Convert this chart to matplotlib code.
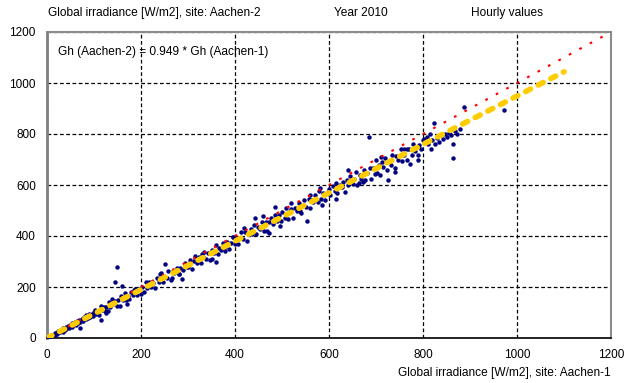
import matplotlib.pyplot as plt

plt.rcParams['font.family'] = ['Liberation Sans', 'DejaVu Sans']

# hourly global irradiance, site Aachen-1 (x) vs Aachen-2 (y)
x_vals = [2, 5, 7, 9, 11, 13, 16, 17, 19, 21, 23, 26, 28, 29, 31, 33, 35, 37, 39, 41, 43, 45, 47, 49,
          53, 54, 56, 59, 61, 64, 66, 69, 71, 74, 77, 79, 83, 84, 87, 89, 92, 96, 97, 99, 70, 115, 33,
          102, 105, 108, 111, 114, 117, 121, 123, 126, 129, 132, 135, 139, 141, 144, 148, 151, 155, 158,
          161, 165, 168, 172, 175, 179, 183, 187, 191, 195, 199, 149, 145, 160, 170, 125, 185,
          203, 206, 210, 213, 217, 221, 226, 229, 233, 238, 242, 246, 250, 255, 258, 263, 268, 271, 276,
          280, 284, 289, 293, 297, 251, 287, 280, 265, 240,
          301, 304, 308, 313, 315, 319, 323, 327, 331, 335, 339, 343, 347, 351, 355, 359, 363, 367, 371,
          375, 379, 383, 387, 391, 395, 399, 360, 330, 350, 378, 395,
          402, 407, 409, 413, 417, 421, 425, 429, 433, 437, 441, 445, 449, 453, 457, 461, 465, 469, 473,
          477, 481, 485, 489, 493, 497, 443, 472, 485, 460, 420, 495,
          501, 506, 508, 513, 517, 519, 523, 527, 531, 537, 539, 543, 547, 551, 557, 559, 563, 567, 571,
          577, 579, 583, 587, 591, 597, 599, 553, 540, 580, 520, 585, 560,
          603, 608, 612, 614, 618, 623, 627, 629, 633, 639, 641, 645, 651, 653, 657, 663, 665, 669, 675,
          677, 681, 687, 689, 693, 697, 615, 685, 640, 660, 700, 672,
          703, 706, 708, 713, 715, 719, 723, 729, 731, 735, 741, 743, 747, 753, 755, 759, 765, 767, 771,
          777, 779, 783, 789, 791, 795, 799, 726, 772, 740, 760, 710, 790,
          802, 805, 808, 811, 815, 817, 820, 823, 826, 830, 834, 838, 842, 846, 850, 855, 860, 864, 864,
          868, 872, 878, 887, 972]
y_vals = [3, 4, 9, 6, 13, 10, 19, 12, 21, 17, 28, 22, 24, 33, 27, 38, 29, 40, 33, 44, 38, 49, 40, 51,
          45, 58, 50, 63, 52, 66, 57, 72, 63, 75, 66, 82, 74, 90, 78, 96, 83, 94, 86, 101, 39, 71, 22,
          109, 94, 106, 91, 126, 108, 123, 106, 122, 105, 140, 121, 153, 132, 147, 127, 148, 127, 163,
          148, 176, 150, 164, 151, 179, 170, 193, 169, 191, 171, 280, 220, 205, 135, 100, 190,
          200, 179, 219, 198, 218, 200, 217, 198, 236, 220, 254, 221, 238, 234, 262, 229, 263, 254, 275,
          252, 275, 265, 296, 277, 291, 232, 250, 235, 250,
          277, 304, 272, 302, 321, 296, 318, 296, 316, 337, 311, 334, 305, 347, 334, 366, 328, 354, 344,
          374, 355, 376, 348, 374, 396, 367, 299, 330, 310, 340, 395,
          391, 368, 392, 415, 387, 415, 381, 408, 428, 409, 445, 409, 434, 426, 454, 420, 453, 419, 454,
          471, 446, 482, 457, 482, 457, 469, 413, 512, 480, 430, 440,
          493, 472, 509, 468, 497, 506, 471, 509, 500, 531, 498, 518, 543, 513, 544, 508, 541, 533, 561,
          532, 577, 546, 568, 541, 571, 584, 457, 490, 590, 530, 520, 560,
          560, 597, 575, 608, 568, 600, 592, 613, 574, 618, 599, 634, 604, 625, 650, 609, 639, 624, 658,
          618, 649, 666, 624, 668, 645, 547, 787, 660, 600, 700, 610,
          647, 678, 640, 691, 670, 704, 660, 695, 679, 716, 668, 712, 697, 740, 694, 716, 742, 700, 741,
          719, 760, 733, 719, 757, 740, 778, 618, 681, 650, 740, 710, 700,
          780, 770, 790, 760, 800, 740, 775, 843, 760, 785, 770, 795, 780, 800, 790, 805, 795, 760, 705,
          810, 800, 820, 905, 894]

slope = 0.949
fit_x = [0, 1100]
diag = [0, 1200]
ticks = [0, 200, 400, 600, 800, 1000, 1200]

fig = plt.figure(figsize=(6.34, 3.83), dpi=100)
ax = fig.add_axes([47 / 634, 45 / 383, 564 / 634, 306 / 383])

ax.plot(x_vals, y_vals, 'o', color='#000080', markersize=3.2, markeredgewidth=0, zorder=3)
ax.plot(diag, diag, color='#ff0000', linestyle=(0, (1.3, 4.4)), linewidth=1.5, zorder=4)
ax.plot(fit_x, [slope * v for v in fit_x], color='#ffcc00', linestyle=(0, (1.0, 1.55)),
        linewidth=4, zorder=5, dash_capstyle='round')

ax.set_xlim(0, 1200)
ax.set_ylim(0, 1200)
ax.set_xticks(ticks)
ax.set_yticks(ticks)
ax.tick_params(length=0, labelsize=8.5, pad=8)
ax.grid(True, color='black', linestyle=(0, (3, 2)), linewidth=0.9)
ax.set_axisbelow(True)

ax.spines['left'].set_color('#808080')
ax.spines['left'].set_linewidth(2)
ax.spines['bottom'].set_color('black')
ax.spines['bottom'].set_linewidth(1.2)
for side in ['top', 'right']:
    ax.spines[side].set_color('#8c8c8c')
    ax.spines[side].set_linewidth(1.5)
    ax.spines[side].set_linestyle((0, (1.5, 1)))

fig.text(48 / 634, 1 - 16 / 383, 'Global irradiance [W/m2], site: Aachen-2', fontsize=8.6)
fig.text(334 / 634, 1 - 16 / 383, 'Year 2010', fontsize=8.6)
fig.text(471 / 634, 1 - 16 / 383, 'Hourly values', fontsize=8.6)
ax.text(0.02, 0.955, 'Gh (Aachen-2) = 0.949 * Gh (Aachen-1)', transform=ax.transAxes,
        fontsize=8.6, va='top')
fig.text(611 / 634, 1 - 376 / 383, 'Global irradiance [W/m2], site: Aachen-1', fontsize=8.6,
         ha='right')

fig.savefig('out.png', dpi=100)
